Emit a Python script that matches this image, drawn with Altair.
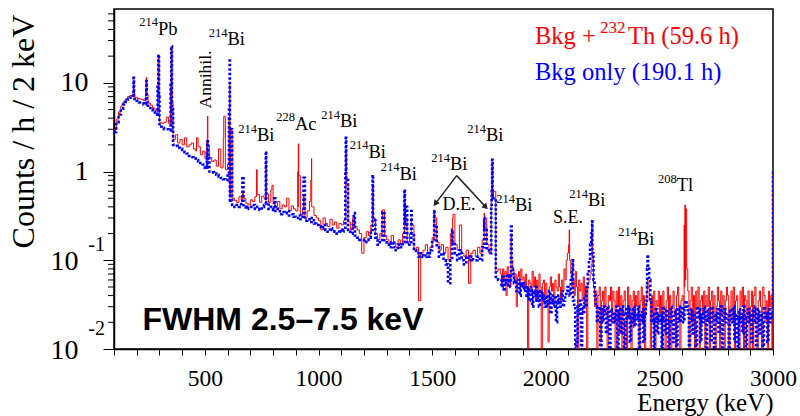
import altair as alt
import pandas as pd

# ---------------- data ----------------
# reading grid: 10 keV steps below 1800 keV, 5 keV steps above (noisier region)
grid_energy = list(range(100, 1800, 10)) + list(range(1800, 3001, 5))

th_grid = [
    # 100 - 1790 keV (10 keV)
    3.0, 3.9, 4.7, 5.5, 6.1, 6.6, 7.0, 7.2, 7.0, 6.9,
    6.7, 6.6, 6.5, 6.3, 6.1, 5.9, 5.6, 5.2, 4.9, 4.7,
    3.6, 3.5, 3.6, 4.1, 3.5, 3.4, 2.3, 2.6, 2.1, 2.3,
    2.0, 2.4, 1.9, 2.0, 2.1, 1.8, 1.7, 1.9, 1.55, 1.7,
    1.4, 1.45, 1.45, 1.3, 1.35, 1.15, 1.8, 1.1, 1.25, 1.05,
    1.2, 0.55, 0.5, 0.47, 0.45, 0.52, 0.47, 0.5, 0.44, 0.42,
    0.48, 0.46, 0.52, 0.55, 0.45, 0.53, 0.5, 0.56, 0.45, 0.62,
    0.43, 0.4, 0.46, 0.38, 0.42, 0.4, 0.5, 0.36, 0.41, 0.38,
    0.36, 0.4, 0.33, 0.38, 0.3, 0.36, 0.46, 0.4, 0.32, 0.3,
    0.28, 0.22, 0.3, 0.26, 0.24, 0.29, 0.25, 0.27, 0.23, 0.26,
    0.25, 0.28, 0.6, 0.27, 0.22, 0.3, 0.24, 0.22, 0.2, 0.12,
    0.18, 0.21, 0.19, 0.25, 0.3, 0.2, 0.17, 0.2, 0.3, 0.19,
    0.17, 0.15, 0.19, 0.16, 0.14, 0.17, 0.15, 0.2, 0.3, 0.16,
    0.2, 0.25, 0.13, 0.14, 0.035, 0.12, 0.13, 0.15, 0.12, 0.14,
    0.18, 0.3, 0.16, 0.13, 0.15, 0.12, 0.14, 0.1, 0.2, 0.3,
    0.15, 0.13, 0.2, 0.12, 0.11, 0.13, 0.055, 0.12, 0.13, 0.11,
    0.14, 0.12, 0.17, 0.3, 0.15, 0.12, 0.5, 0.6, 0.075, 0.08,
    # 1800 - 2995 keV (5 keV)
    0.07, 0.05, 0.08, 0.06, 0.075, 0.04, 0.085, 0.065, 0.07, 0.05, 0.1, 0.08, 0.06, 0.07, 0.03, 0.065, 0.075, 0.055, 0.08, 0.06,
    0.065, 0.045, 0.07, 0.05, 0.01, 0.06, 0.055, 0.04, 0.075, 0.05, 0.065, 0.035, 0.06, 0.045, 0.07, 0.05, 0.01, 0.055, 0.06, 0.04,
    0.055, 0.04, 0.012, 0.05, 0.065, 0.045, 0.055, 0.03, 0.06, 0.05, 0.045, 0.07, 0.05, 0.035, 0.06, 0.045, 0.08, 0.06, 0.1, 0.12,
    0.15, 0.1, 0.07, 0.05, 0.06, 0.04, 0.075, 0.05, 0.01, 0.06, 0.045, 0.055, 0.035, 0.065, 0.04, 0.05, 0.01, 0.055, 0.06, 0.07,
    0.09, 0.11, 0.05, 0.03, 0.045, 0.01, 0.04, 0.05, 0.012, 0.035, 0.045, 0.025, 0.05, 0.03, 0.01, 0.04, 0.035, 0.05, 0.02, 0.045,
    0.035, 0.01, 0.045, 0.03, 0.05, 0.015, 0.04, 0.01, 0.035, 0.045, 0.025, 0.01, 0.05, 0.03, 0.04, 0.01, 0.035, 0.045, 0.02, 0.04,
    0.03, 0.045, 0.01, 0.035, 0.05, 0.02, 0.04, 0.01, 0.03, 0.045, 0.05, 0.035, 0.01, 0.04, 0.025, 0.045, 0.01, 0.035, 0.03, 0.045,
    0.025, 0.04, 0.01, 0.045, 0.03, 0.01, 0.035, 0.05, 0.02, 0.04, 0.01, 0.03, 0.045, 0.025, 0.01, 0.04, 0.05, 0.03, 0.01, 0.035,
    0.04, 0.03, 0.05, 0.06, 0.03, 0.045, 0.01, 0.035, 0.05, 0.02, 0.04, 0.01, 0.045, 0.03, 0.05, 0.01, 0.035, 0.04, 0.025, 0.045,
    0.01, 0.04, 0.03, 0.05, 0.01, 0.035, 0.045, 0.02, 0.04, 0.01, 0.03, 0.05, 0.035, 0.01, 0.045, 0.025, 0.04, 0.01, 0.035, 0.05,
    0.04, 0.01, 0.03, 0.045, 0.02, 0.05, 0.01, 0.035, 0.04, 0.025, 0.01, 0.045, 0.03, 0.05, 0.01, 0.04, 0.035, 0.02, 0.045, 0.01,
    0.03, 0.045, 0.01, 0.04, 0.05, 0.025, 0.01, 0.035, 0.045, 0.03, 0.01, 0.05, 0.04, 0.02, 0.035, 0.01, 0.045, 0.03, 0.04, 0.01,
    # 3000 keV (overflow)
    1.0,
]

bkg_grid = [
    # 100 - 1790 keV (10 keV)
    2.8, 3.6, 4.4, 5.1, 5.7, 6.1, 6.5, 6.8, 6.9, 6.6,
    6.3, 6.0, 5.9, 5.7, 5.5, 5.2, 5.0, 4.7, 4.4, 4.2,
    3.2, 3.1, 3.0, 3.0, 2.9, 2.8, 2.0, 1.95, 1.85, 1.8,
    1.75, 1.65, 1.6, 1.5, 1.45, 1.4, 1.35, 1.3, 1.25, 1.2,
    1.1, 1.05, 1.0, 0.98, 0.95, 0.92, 0.88, 0.85, 0.82, 0.8,
    0.9, 0.45, 0.42, 0.4, 0.42, 0.4, 0.45, 0.4, 0.38, 0.4,
    0.4, 0.42, 0.38, 0.4, 0.37, 0.4, 0.42, 0.45, 0.38, 0.4,
    0.37, 0.36, 0.38, 0.33, 0.35, 0.34, 0.36, 0.32, 0.33, 0.31,
    0.3, 0.32, 0.29, 0.32, 0.28, 0.29, 0.27, 0.3, 0.26, 0.25,
    0.24, 0.23, 0.25, 0.22, 0.21, 0.23, 0.22, 0.21, 0.2, 0.22,
    0.21, 0.22, 0.5, 0.22, 0.2, 0.25, 0.19, 0.18, 0.17, 0.17,
    0.16, 0.17, 0.18, 0.22, 0.3, 0.18, 0.15, 0.16, 0.25, 0.16,
    0.15, 0.14, 0.16, 0.14, 0.13, 0.15, 0.14, 0.16, 0.25, 0.15,
    0.16, 0.2, 0.13, 0.12, 0.11, 0.12, 0.11, 0.12, 0.11, 0.13,
    0.16, 0.25, 0.14, 0.11, 0.12, 0.1, 0.09, 0.055, 0.1, 0.16,
    0.12, 0.1, 0.13, 0.1, 0.09, 0.11, 0.1, 0.11, 0.1, 0.1,
    0.11, 0.1, 0.14, 0.22, 0.13, 0.12, 0.4, 0.5, 0.065, 0.06,
    # 1800 - 2995 keV (5 keV)
    0.06, 0.05, 0.065, 0.045, 0.06, 0.055, 0.07, 0.05, 0.065, 0.06, 0.08, 0.07, 0.055, 0.06, 0.045, 0.05, 0.06, 0.04, 0.055, 0.05,
    0.055, 0.045, 0.05, 0.04, 0.05, 0.035, 0.045, 0.05, 0.03, 0.045, 0.04, 0.05, 0.035, 0.045, 0.03, 0.04, 0.045, 0.035, 0.04, 0.03,
    0.04, 0.03, 0.035, 0.045, 0.025, 0.04, 0.035, 0.03, 0.04, 0.02, 0.035, 0.04, 0.03, 0.035, 0.045, 0.03, 0.035, 0.04, 0.045, 0.05,
    0.045, 0.04, 0.06, 0.08, 0.035, 0.03, 0.01, 0.012, 0.03, 0.025, 0.035, 0.01, 0.03, 0.025, 0.04, 0.03, 0.05, 0.07, 0.1, 0.15,
    0.2, 0.12, 0.06, 0.04, 0.03, 0.02, 0.025, 0.03, 0.01, 0.028, 0.02, 0.03, 0.025, 0.015, 0.03, 0.022, 0.01, 0.028, 0.025, 0.02,
    0.025, 0.02, 0.03, 0.01, 0.028, 0.022, 0.015, 0.03, 0.025, 0.01, 0.02, 0.028, 0.022, 0.03, 0.012, 0.025, 0.02, 0.03, 0.018, 0.025,
    0.022, 0.03, 0.01, 0.025, 0.02, 0.028, 0.012, 0.025, 0.035, 0.05, 0.08, 0.06, 0.035, 0.02, 0.025, 0.01, 0.022, 0.028, 0.015, 0.025,
    0.02, 0.025, 0.01, 0.03, 0.022, 0.015, 0.028, 0.02, 0.01, 0.025, 0.03, 0.02, 0.012, 0.025, 0.028, 0.01, 0.022, 0.03, 0.02, 0.025,
    0.03, 0.02, 0.028, 0.035, 0.03, 0.025, 0.01, 0.022, 0.028, 0.015, 0.025, 0.02, 0.01, 0.03, 0.022, 0.028, 0.012, 0.025, 0.02, 0.03,
    0.022, 0.01, 0.028, 0.02, 0.025, 0.012, 0.03, 0.022, 0.01, 0.025, 0.02, 0.028, 0.015, 0.025, 0.03, 0.01, 0.022, 0.028, 0.02, 0.025,
    0.025, 0.01, 0.028, 0.022, 0.02, 0.03, 0.012, 0.025, 0.022, 0.01, 0.028, 0.02, 0.025, 0.015, 0.03, 0.022, 0.01, 0.025, 0.028, 0.02,
    0.025, 0.012, 0.028, 0.02, 0.03, 0.01, 0.022, 0.028, 0.015, 0.025, 0.02, 0.01, 0.03, 0.022, 0.025, 0.012, 0.028, 0.02, 0.025, 0.022,
    # 3000 keV (overflow)
    1.0,
]

th_peak_energy = [184, 186, 188, 240, 242, 244, 292, 295, 298, 349, 352, 355,
                  463, 509, 511, 513, 581, 583, 606, 609, 612, 665, 727, 768,
                  795, 909, 911, 913, 934, 966, 969, 1120, 1122, 1155, 1238,
                  1281, 1378, 1408, 1509, 1592, 1620, 1729, 1762, 1764, 1766,
                  1847, 2103, 2204, 2447, 2609, 2612, 2616, 2620]
th_peak_count = [8.0, 10.5, 8.0, 8.5, 11.5, 7.5, 9.0, 20.5, 8.0, 9.0, 24.0, 6.0,
                 2.4, 2.2, 4.2, 2.0, 2.4, 4.2, 4.0, 9.6, 3.0, 0.6, 1.05, 1.2,
                 0.7, 1.0, 2.05, 0.9, 0.55, 0.8, 1.4, 1.7, 0.7, 0.3, 0.7,
                 0.37, 0.45, 0.3, 0.37, 0.33, 0.25, 0.34, 0.7, 1.2, 0.5,
                 0.2, 0.22, 0.2, 0.06, 0.25, 0.42, 0.38, 0.08]

bkg_peak_energy = [184, 186, 188, 240, 242, 244, 292, 295, 298, 349, 352, 355,
                   509, 511, 513, 606, 609, 612, 665, 768, 806, 934, 1118, 1120,
                   1122, 1155, 1238, 1281, 1378, 1385, 1408, 1509, 1588, 1729,
                   1762, 1764, 1766, 1847, 2118, 2202, 2204, 2446, 2448]
bkg_peak_count = [7.5, 11.4, 7.0, 7.0, 10.5, 6.0, 9.0, 20.8, 7.0, 10.0, 25.9, 5.0,
                  1.6, 2.2, 1.4, 5.0, 17.8, 3.0, 0.88, 1.69, 0.5, 0.85, 1.0, 2.4,
                  0.8, 0.34, 0.92, 0.35, 0.63, 0.4, 0.36, 0.37, 0.22, 0.3,
                  0.6, 1.36, 0.5, 0.24, 0.1, 0.2, 0.275, 0.08, 0.116]

# isotope labels: mass number, element, energy of the split point, level of baseline
ann_mass = ["214", "214", "214", "228", "214", "214", "214", "214", "214", "214", "214", "214", "208"]
ann_elem = ["Pb", "Bi", "Bi", "Ac", "Bi", "Bi", "Bi", "Bi", "Bi", "Bi", "Bi", "Bi", "Tl"]
ann_energy = [293.6, 599.5, 729.3, 896.5, 1094.5, 1220, 1356.4, 1737, 1578.6, 1864.6, 2185.9, 2401.5, 2576.2]
ann_level = [35.0, 26.5, 2.2, 2.98, 3.16, 1.43, 0.81, 2.2, 1.03, 0.357, 0.406, 0.150, 0.60]

note_text = ["D.E.", "S.E."]
note_energy = [1618, 2098]
note_level = [0.373, 0.264]

arrow_energy = [1608, 1608]
arrow_level = [0.90, 0.90]
arrow_energy2 = [1517, 1733]
arrow_level2 = [0.444, 0.406]
arrow_angle = [217, 137]

minor_y = [0.02, 0.03, 0.04, 0.05, 0.06, 0.07, 0.08, 0.09,
           0.2, 0.3, 0.4, 0.5, 0.6, 0.7, 0.8, 0.9,
           2, 3, 4, 5, 6, 7, 8, 9, 20, 30, 40, 50, 60]

assert len(th_grid) == len(grid_energy), (len(th_grid), len(grid_energy))
assert len(bkg_grid) == len(grid_energy), (len(bkg_grid), len(grid_energy))
assert len(th_peak_energy) == len(th_peak_count)
assert len(bkg_peak_energy) == len(bkg_peak_count)


def build(grid_vals, peak_e, peak_v):
    d = dict(zip(grid_energy, grid_vals))
    d.update(zip(peak_e, peak_v))
    keys = sorted(d)
    return pd.DataFrame({"energy": keys, "count": [d[k] for k in keys]})


df_th = build(th_grid, th_peak_energy, th_peak_count)
df_bkg = build(bkg_grid, bkg_peak_energy, bkg_peak_count)

SERIF = "Liberation Serif"
W, H = 659, 340

xs = alt.Scale(domain=[100, 3000], nice=False, zero=False)
ys = alt.Scale(type="log", domain=[0.01, 68], nice=False)

x_axis = alt.Axis(
    values=list(range(100, 3001, 100)),
    labelExpr="datum.value % 500 == 0 ? format(datum.value, 'd') : ''",
    labelFlush=False, labelOverlap=False, grid=False,
    tickSize=6, labelPadding=11, labelFont=SERIF, labelFontSize=23.5,
    title="Energy (keV)", titleFont=SERIF, titleFontSize=25, titleFontWeight="normal",
    titleAlign="right", titleBaseline="alphabetic", titleX=W, titleY=61.5,
)
y_axis = alt.Axis(
    values=[0.01, 0.1, 1, 10],
    labelExpr="datum.value == 10 ? '10' : (datum.value == 1 ? '1' : '')",
    labelOverlap=False, grid=False, tickSize=11, labelPadding=15,
    labelFont=SERIF, labelFontSize=28,
    title="Counts / h / 2 keV", titleFont=SERIF, titleFontSize=32, titleFontWeight="normal",
    titleAngle=270, titleAlign="center", titleBaseline="alphabetic", titleX=-81, titleY=122,
)


def X(field):
    return alt.X(field, type="quantitative", scale=xs, axis=x_axis)


def Y(field):
    return alt.Y(field, type="quantitative", scale=ys, axis=y_axis)


red = alt.Chart(df_th).mark_line(color="#ff0000", strokeWidth=1, interpolate="step-after", clip=True).encode(
    x=X("energy"), y=Y("count"))
blue = alt.Chart(df_bkg).mark_line(color="#0000ff", strokeWidth=2.6, strokeDash=[2.5, 2],
                                   interpolate="step-after", clip=True).encode(
    x=X("energy"), y=Y("count"))

minor = alt.Chart(pd.DataFrame({"count": minor_y})).mark_rule(color="black", strokeWidth=1).encode(
    y=Y("count"), x=alt.value(-6), x2=alt.value(0))

ann_df = pd.DataFrame({"mass": ann_mass, "elem": ann_elem, "energy": ann_energy, "count": ann_level})
sup = alt.Chart(ann_df).mark_text(font=SERIF, fontSize=12.5, align="right", baseline="alphabetic", dy=-8.5).encode(
    x=X("energy"), y=Y("count"), text="mass:N")
elem = alt.Chart(ann_df).mark_text(font=SERIF, fontSize=18.5, align="left", baseline="alphabetic").encode(
    x=X("energy"), y=Y("count"), text="elem:N")

notes = alt.Chart(pd.DataFrame({"t": note_text, "energy": note_energy, "count": note_level})).mark_text(
    font=SERIF, fontSize=18, align="center", baseline="alphabetic").encode(
    x=X("energy"), y=Y("count"), text="t:N")

annih = alt.Chart(pd.DataFrame({"t": ["Annihil."], "energy": [524.7], "count": [10.9]})).mark_text(
    font=SERIF, fontSize=17.5, align="center", baseline="alphabetic", angle=270).encode(
    x=X("energy"), y=Y("count"), text="t:N")

arr_df = pd.DataFrame({"energy": arrow_energy, "count": arrow_level,
                       "e2": arrow_energy2, "l2": arrow_level2, "a": arrow_angle})
arr_lines = alt.Chart(arr_df).mark_rule(color="#222222", strokeWidth=1.5).encode(
    x=X("energy"), y=Y("count"), x2="e2:Q", y2="l2:Q")
arr_heads = alt.Chart(arr_df.assign(energy=arr_df["e2"], count=arr_df["l2"])).mark_point(
    shape="triangle", filled=True, color="#222222", size=45, opacity=1).encode(
    x=X("energy"), y=Y("count"), angle=alt.Angle("a:Q", scale=None))

# y labels 10^-1 and 10^-2 (ROOT style)
exp_layers = []
for lvl, ex, dy in [(0.1, "-1", -15), (0.01, "-2", -20)]:
    d = pd.DataFrame({"count": [lvl], "base": ["10"], "ex": [ex]})
    exp_layers.append(alt.Chart(d).mark_text(font=SERIF, fontSize=28, align="right", baseline="middle", dy=1.5).encode(
        y=Y("count"), x=alt.value(-35.5), text="base:N"))
    exp_layers.append(alt.Chart(d).mark_text(font=SERIF, fontSize=20, align="right", baseline="middle", dy=dy).encode(
        y=Y("count"), x=alt.value(-9), text="ex:N"))

# legend text
leg = [
    ("Bkg +", 421, 35, 24.5, "#ff0000"),
    ("232", 486, 24.3, 17, "#ff0000"),
    ("Th (59.6 h)", 514, 35, 24.5, "#ff0000"),
    ("Bkg only (190.1 h)", 421, 71, 24.5, "#0000ff"),
]
leg_layers = [
    alt.Chart(pd.DataFrame({"t": [t]})).mark_text(font=SERIF, fontSize=fs, color=c, align="left",
                                                  baseline="alphabetic").encode(
        x=alt.value(x), y=alt.value(y), text="t:N")
    for t, x, y, fs, c in leg
]

fwhm = alt.Chart(pd.DataFrame({"t": ["FWHM 2.5\u20137.5 keV"]})).mark_text(
    font="Liberation Sans", fontWeight="bold", fontSize=32, align="left", baseline="alphabetic", color="black").encode(
    x=alt.value(28.5), y=alt.value(321), text="t:N")

chart = alt.layer(
    red, blue, minor, sup, elem, notes, annih, arr_lines, arr_heads, fwhm, *exp_layers, *leg_layers
).properties(
    width=W, height=H,
    padding={"left": 114, "top": 9, "right": 27, "bottom": 67},
    autosize=alt.AutoSizeParams(type="none"),
    background="white",
).configure_view(
    stroke="black", strokeWidth=1.5
).configure_axis(
    domainColor="black", domainWidth=1.5, tickColor="black", tickWidth=1, labelColor="black", titleColor="black"
)

chart.save("out.html", embed_options={"renderer": "svg", "actions": False})
